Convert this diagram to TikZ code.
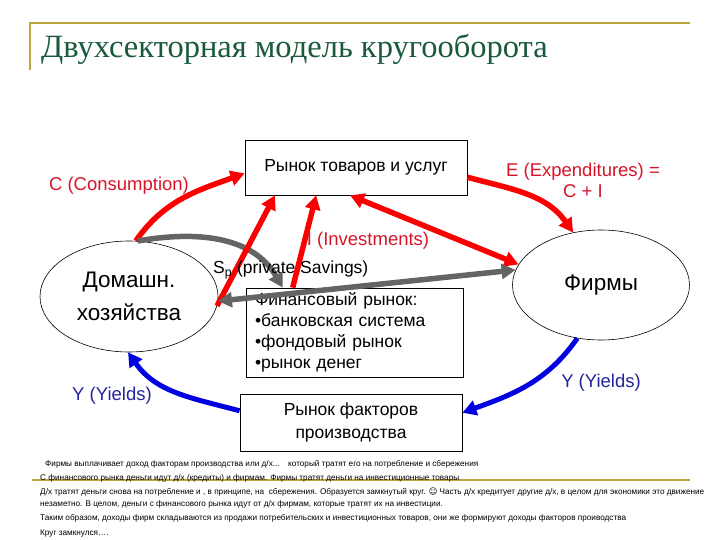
\documentclass[tikz,border=0pt]{standalone}
\usepackage{fontspec}
\setmainfont{Liberation Sans}
\newfontfamily\titlefont{Liberation Serif}
\newfontfamily\smilefont{DejaVu Sans}
\usetikzlibrary{arrows.meta, shapes.geometric}

\definecolor{titlegreen}{RGB}{25,90,60}
\definecolor{framegold}{RGB}{190,165,60}
\definecolor{flowred}{RGB}{250,0,0}
\definecolor{labelred}{RGB}{215,20,40}
\definecolor{flowgray}{RGB}{100,100,100}
\definecolor{flowblue}{RGB}{0,0,225}
\definecolor{labelblue}{RGB}{35,35,160}

\tikzset{
    market/.style={draw, rectangle, line width=0.8pt, align=center, inner sep=0pt,
        font=\fontsize{17.5}{23}\selectfont},
    sector/.style={draw, ellipse, line width=0.6pt, align=center, inner sep=0pt,
        font=\fontsize{22.5}{33}\selectfont},
    redflow/.style={flowred, line width=5.5pt, -{Triangle[length=14pt,width=15pt]}},
    grayflow/.style={flowgray, line width=5.5pt, -{Triangle[length=14pt,width=15pt]}},
    blueflow/.style={flowblue, line width=5pt, -{Triangle[length=14pt,width=15pt]}},
    redlabel/.style={labelred, align=center, font=\fontsize{18.5}{21}\selectfont},
    bluelabel/.style={labelblue, font=\fontsize{18.5}{21}\selectfont},
    note/.style={anchor=base west, inner sep=0pt, font=\fontsize{8.2}{10}\selectfont}
}

\begin{document}
\begin{tikzpicture}[x=1pt, y=-1pt]
    \useasboundingbox (0,0) rectangle (720,540);

    % title
    \draw[framegold, line width=1.5pt] (30,70) -- (30,23) -- (690,23);
    \node[titlegreen, anchor=base west, inner sep=0pt, font=\titlefont\fontsize{32.5}{36}\selectfont]
        (title) at (41,58) {Двухсекторная модель кругооборота};

    % sectors and markets
    \node[market, minimum width=222pt, minimum height=55pt] (goods) at (356,167.5) {Рынок товаров и услуг};
    \node[market, minimum width=217pt, minimum height=89pt, text width=199pt, align=left,
        font=\fontsize{17.5}{21}\selectfont] (fin) at (354.5,332.5)
        {Финансовый рынок:\\•банковская система\\•фондовый рынок\\•рынок денег};
    \node[market, minimum width=222pt, minimum height=57pt] (factors) at (351,422.5) {Рынок факторов\\производства};
    \node[sector, minimum width=178pt, minimum height=111pt] (hh) at (129,296.5) {Домашн.\\хозяйства};
    \node[sector, minimum width=177pt, minimum height=110pt] (firms) at (601,285) {Фирмы};

    % flows
    \draw[redflow] (hh.83) to[out=55, in=200] (goods.183);
    \draw[redflow] (goods.-5) to[out=-15, in=125] (firms.118);
    \draw[grayflow] (hh.81) to[out=10, in=120] (fin.148);
    \draw[redflow] (hh.-6) -- (goods.-161);
    \draw[redflow] (fin.144.5) -- (goods.-145);
    \draw[redflow, {Triangle[length=14pt,width=15pt]}-{Triangle[length=14pt,width=15pt]}] (goods.-102) -- (firms.166);
    \draw[grayflow, {Triangle[length=14pt,width=15pt]}-{Triangle[length=14pt,width=15pt]}] (hh.-3) -- (firms.170);
    \draw[blueflow] (firms.246) to[out=235, in=20] (factors.5);
    \draw[blueflow] (factors.174) to[out=165, in=-55] (hh.-91);

    % labels
    \node[redlabel] (lc) at (119,186) {C (Consumption)};
    \node[redlabel] (le) at (583,180) {E (Expenditures) =\\C + I};
    \node[redlabel] (li) at (368,241) {I (Investments)};
    \node[anchor=west, inner sep=0pt, font=\fontsize{17.5}{21}\selectfont] (ls) at (213,270) {S\textsubscript{p} (private Savings)};
    \node[bluelabel] (ly1) at (112,396) {Y (Yields)};
    \node[bluelabel] (ly2) at (601,383) {Y (Yields)};

    % notes
    \draw[framegold, line width=1.2pt] (32,480) -- (690,480);
    \node[note] (n1) at (45,466) {Фирмы выплачивает доход факторам производства или д/х...};
    \node[note] (n2) at (288,466) {который тратят его на потребление и сбережения};
    \node[note] (n3) at (40,480) {С финансового рынка деньги идут д/х (кредиты) и фирмам. Фирмы тратят деньги на инвестиционные товары};
    \node[note] (n4) at (40,494) {Д/х тратят деньги снова на потребление и , в принципе, на \ сбережения. Образуется замкнутый круг. {\smilefont ☺} Часть д/х кредитует другие д/х, в целом для экономики это движение};
    \node[note] (n5) at (40,506) {незаметно. В целом, деньги с финансового рынка идут от д/х фирмам, которые тратят их на инвестиции.};
    \node[note] (n6) at (40,520) {Таким образом, доходы фирм складываются из продажи потребительских и инвестиционных товаров, они же формируют доходы факторов проиводства};
    \node[note] (n7) at (40,535) {Круг замкнулся….};
\end{tikzpicture}
\end{document}
